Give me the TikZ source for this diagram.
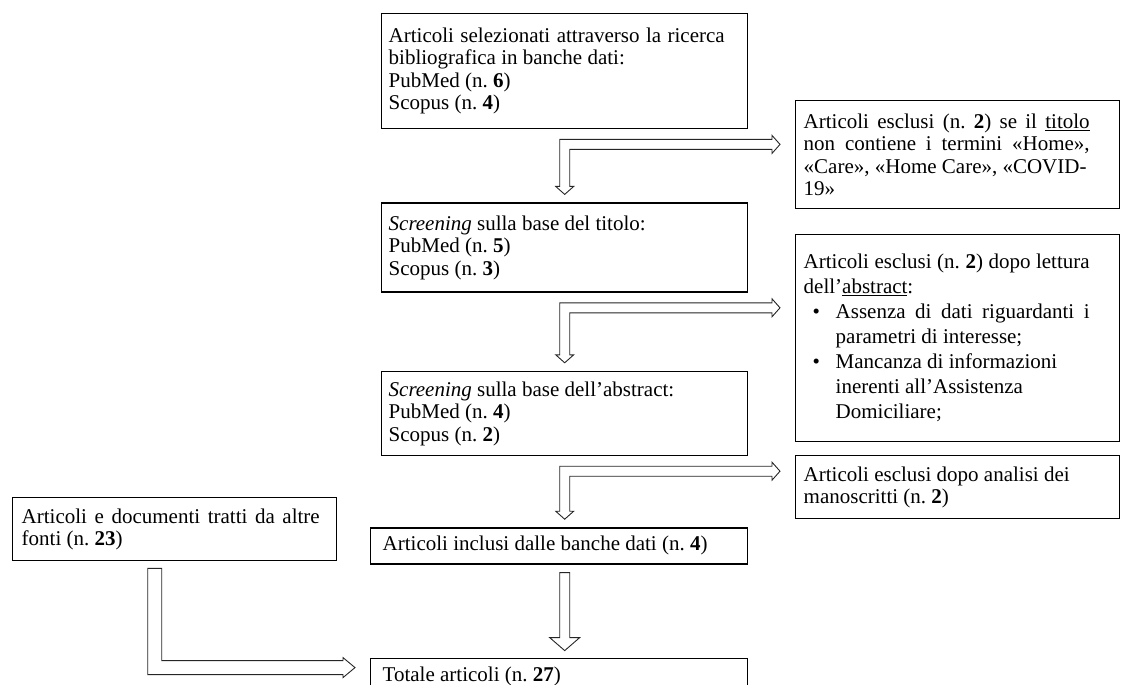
\documentclass[tikz,border=0pt]{standalone}
\usepackage{fontspec}
\setmainfont{Liberation Serif}
\usetikzlibrary{positioning,calc}
\frenchspacing
\tolerance=10000
\setlength{\parindent}{0pt}

% hollow bent arrow: down into #2, right into #3
\newcommand{\elbowarrow}[3]{%
  \draw[hollow] let \p1=($(#1.south)+(0,-15pt)$), \p2=($(#2.north)+(0,8pt)$),
                    \p3=($(#3.west)+(-15pt,0)$) in
    (\x1-5pt,\y1+5pt) -- (\x3-8pt,\y1+5pt) -- (\x3-8pt,\y1+9pt) -- (\x3,\y1)
    -- (\x3-8pt,\y1-9pt) -- (\x3-8pt,\y1-5pt) -- (\x1+5pt,\y1-5pt)
    -- (\x1+5pt,\y2+8pt) -- (\x1+9pt,\y2+8pt) -- (\x1,\y2)
    -- (\x1-9pt,\y2+8pt) -- (\x1-5pt,\y2+8pt) -- cycle;}

\begin{document}
\begin{tikzpicture}[x=1pt,y=1pt,
  box/.style={draw,line width=1.4pt,anchor=north west,align=justify,
              inner xsep=7pt,inner ysep=4pt,
              font=\fontsize{21}{22.5}\selectfont},
  hollow/.style={draw=black!85,line width=0.9pt,fill=white}]
  \useasboundingbox (0,0) rectangle (1122,-685);
  % main column
  \node[box,text width=352pt,minimum height=115pt] (sel) at (381,-13)
       {\rightskip=16pt\relax Articoli selezionati attraverso la ricerca\linebreak
        bibliografica in banche dati:\\ PubMed (n.~\textbf{6})\\ Scopus (n.~\textbf{4})\par};
  \node[box,text width=352pt,minimum height=89pt,below=73pt of sel] (tit)
       {\textit{Screening} sulla base del titolo:\\ PubMed (n.~\textbf{5})\\
        Scopus (n.~\textbf{3})};
  \node[box,text width=352pt,minimum height=84pt,below=78pt of tit] (abs)
       {\textit{Screening} sulla base dell'abstract:\\ PubMed (n.~\textbf{4})\\
        Scopus (n.~\textbf{2})};
  \node[box,text width=353pt,inner xsep=12pt,minimum height=36pt,
        below=71pt of abs.south east,anchor=north east] (inc)
       {Articoli inclusi dalle banche dati (n.~\textbf{4})};
  \node[box,text width=353pt,inner xsep=12pt,minimum height=36pt,
        below=93pt of inc] (tot)
       {Totale articoli (n.~\textbf{27})};
  % excluded articles
  \node[box,text width=308pt,inner xsep=8pt,minimum height=108pt] (extit)
       at (795,-100)
       {\rightskip=22pt\relax Articoli esclusi (n.~\textbf{2}) se il \underline{titolo}\linebreak
        non contiene i termini «Home»,\linebreak «Care», «Home Care», «COVID-\\ 19»\par};
  \node[box,text width=308pt,inner xsep=8pt,minimum height=207pt,
        font=\fontsize{21}{25}\selectfont] (exabs) at (795,-234)
       {\rightskip=22pt\relax Articoli esclusi (n.~\textbf{2}) dopo lettura\linebreak
        dell'\underline{abstract}:\par
        \hangindent=32pt\hangafter=1\noindent\makebox[32pt][l]{\hspace{9pt}•}%
        Assenza di dati riguardanti i\linebreak parametri di interesse;\par
        \hangindent=32pt\hangafter=1\noindent\makebox[32pt][l]{\hspace{9pt}•}%
        Mancanza di informazioni\\ inerenti all'Assistenza\\ Domiciliare;\par};
  \node[box,text width=308pt,inner xsep=8pt,minimum height=63pt] (exman)
       at (795,-455)
       {Articoli esclusi dopo analisi dei\\ manoscritti (n.~\textbf{2})};
  % other sources
  \node[box,text width=306pt,inner xsep=9pt,minimum height=63pt] (alt)
       at (12,-497)
       {\rightskip=8pt\relax Articoli e documenti tratti da altre\linebreak
        fonti (n.~\textbf{23})\par};
  % arrows
  \elbowarrow{sel}{tit}{extit}
  \elbowarrow{tit}{abs}{exabs}
  \elbowarrow{abs}{inc}{exman}
  \draw[hollow] let \p1=($(inc.south -| abs.south)+(0,-8pt)$),
                    \p2=($(tot.north -| abs.south)+(0,7pt)$) in
    (\x1-5pt,\y1) -- (\x1+5pt,\y1) -- (\x1+5pt,\y2+13pt) -- (\x1+15pt,\y2+13pt)
    -- (\x1,\y2) -- (\x1-15pt,\y2+13pt) -- (\x1-5pt,\y2+13pt) -- cycle;
  \draw[hollow] let \p1=($(alt.south)+(-20pt,-7pt)$),
                    \p2=($(tot.north west)+(-15pt,-10pt)$) in
    (\x1-7pt,\y1) -- (\x1+7pt,\y1) -- (\x1+7pt,\y2+7pt) -- (\x2-12pt,\y2+7pt)
    -- (\x2-12pt,\y2+10pt) -- (\x2,\y2) -- (\x2-12pt,\y2-10pt)
    -- (\x2-12pt,\y2-7pt) -- (\x1-7pt,\y2-7pt) -- cycle;
\end{tikzpicture}
\end{document}
